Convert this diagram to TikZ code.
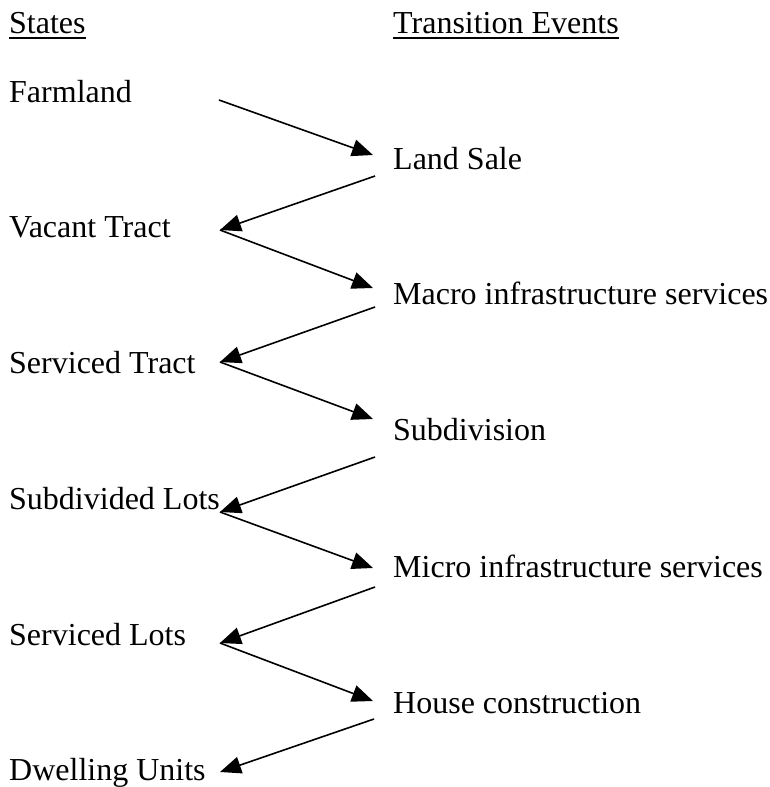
\documentclass[tikz,border=0pt]{standalone}
\usepackage{fontspec}
\setmainfont{Liberation Serif}
\usetikzlibrary{arrows.meta}
\begin{document}
\begin{tikzpicture}[x=1pt,y=-1pt,
  lbl/.style={anchor=base west, inner sep=0pt, font=\fontsize{32}{38}\selectfont},
  uline/.style={line width=2pt},
  conn/.style={line width=1.6pt, -{Triangle[length=21pt,width=17pt]}}]
\useasboundingbox (0,0) rectangle (769,787);
% headers
\node[lbl] (hs) at (9,33) {States};
\node[lbl] (ht) at (393,33) {Transition Events};
\draw[uline] ([yshift=-4.5pt]hs.base west) -- ([yshift=-4.5pt]hs.base east);
\draw[uline] ([yshift=-4.5pt]ht.base west) -- ([yshift=-4.5pt]ht.base east);
% states
\node[lbl] (s0) at (9,102) {Farmland};
\node[lbl] (s1) at (9,237) {Vacant Tract};
\node[lbl] (s2) at (9,373) {Serviced Tract};
\node[lbl] (s3) at (9,509) {Subdivided Lots};
\node[lbl] (s4) at (9,645) {Serviced Lots};
\node[lbl] (s5) at (9,780) {Dwelling Units};
% events
\node[lbl] (e1) at (393,169) {Land Sale};
\node[lbl] (e2) at (393,304) {Macro infrastructure services};
\node[lbl] (e3) at (393,440) {Subdivision};
\node[lbl] (e4) at (393,577) {Micro infrastructure services};
\node[lbl] (e5) at (393,713) {House construction};
% connector end points
\coordinate (a0) at (219,100);
\coordinate (b1) at (373,155); \coordinate (c1) at (375,176);
\coordinate (a1) at (220,230);
\coordinate (b2) at (373,288); \coordinate (c2) at (375,307);
\coordinate (a2) at (220,362);
\coordinate (b3) at (373,419); \coordinate (c3) at (375,457);
\coordinate (a3) at (220,512);
\coordinate (b4) at (373,568); \coordinate (c4) at (375,587);
\coordinate (a4) at (220,643);
\coordinate (b5) at (373,701); \coordinate (c5) at (374,719);
\coordinate (a5) at (220,772);
% connectors
\draw[conn] (a0) -- (b1);
\draw[conn] (c1) -- (a1);
\draw[conn] (a1) -- (b2);
\draw[conn] (c2) -- (a2);
\draw[conn] (a2) -- (b3);
\draw[conn] (c3) -- (a3);
\draw[conn] (a3) -- (b4);
\draw[conn] (c4) -- (a4);
\draw[conn] (a4) -- (b5);
\draw[conn] (c5) -- (a5);
\end{tikzpicture}
\end{document}
